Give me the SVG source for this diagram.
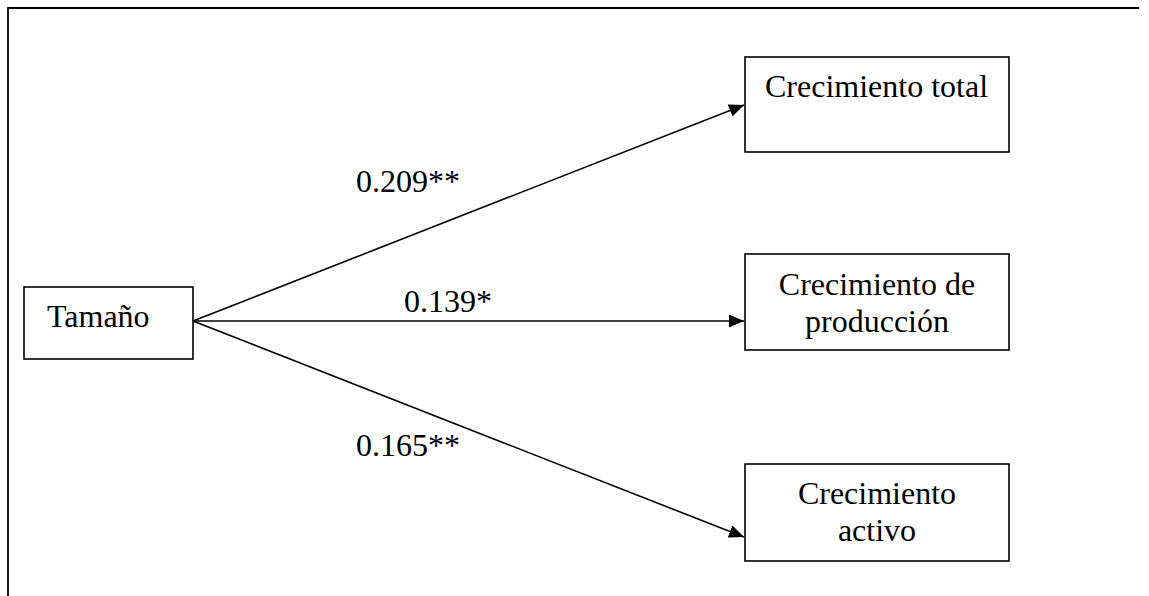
<svg xmlns="http://www.w3.org/2000/svg" width="1149" height="596" viewBox="0 0 1149 596">
  <style>
    .box { fill: #fff; stroke: #000; stroke-width: 1.6; }
    .frame { fill: none; stroke: #000; stroke-width: 1.8; }
    .edge { fill: none; stroke: #000; stroke-width: 1.6; }
    text { font-family: "Liberation Serif", "Times New Roman", serif; font-size: 32px; fill: #000; }
    .c { text-anchor: middle; }
  </style>
  <defs>
    <marker id="arrow" markerWidth="15" markerHeight="13" refX="15" refY="6.5" orient="auto" markerUnits="userSpaceOnUse" viewBox="0 0 15 13">
      <path d="M0,0 L15,6.5 L0,13 Z" fill="#000"/>
    </marker>
  </defs>
  <rect width="1149" height="596" fill="#fff"/>

  <!-- open frame: top and left sides -->
  <path class="frame" d="M8,596 L8,8 L1139,8"/>

  <!-- paths from Tamaño to the three outcomes -->
  <g id="connectors">
    <line class="edge" x1="193" y1="321" x2="744" y2="105" marker-end="url(#arrow)"/>
    <line class="edge" x1="193" y1="321" x2="744" y2="321" marker-end="url(#arrow)"/>
    <line class="edge" x1="193" y1="321" x2="744" y2="537" marker-end="url(#arrow)"/>
    <text x="356" y="192">0.209**</text>
    <text x="404" y="312">0.139*</text>
    <text x="356" y="456">0.165**</text>
  </g>

  <g id="tamano">
    <rect class="box" x="24" y="287" width="169" height="72"/>
    <text x="47" y="327">Tamaño</text>
  </g>

  <g id="crecimiento-total">
    <rect class="box" x="745" y="57" width="264" height="95"/>
    <text x="876.5" y="97" class="c">Crecimiento total</text>
  </g>

  <g id="crecimiento-produccion">
    <rect class="box" x="745" y="254" width="264" height="96"/>
    <text x="877" y="295" class="c">Crecimiento de</text>
    <text x="877" y="332" class="c">producción</text>
  </g>

  <g id="crecimiento-activo">
    <rect class="box" x="745" y="464" width="264" height="97"/>
    <text x="877" y="504" class="c">Crecimiento</text>
    <text x="877" y="541" class="c">activo</text>
  </g>
</svg>
